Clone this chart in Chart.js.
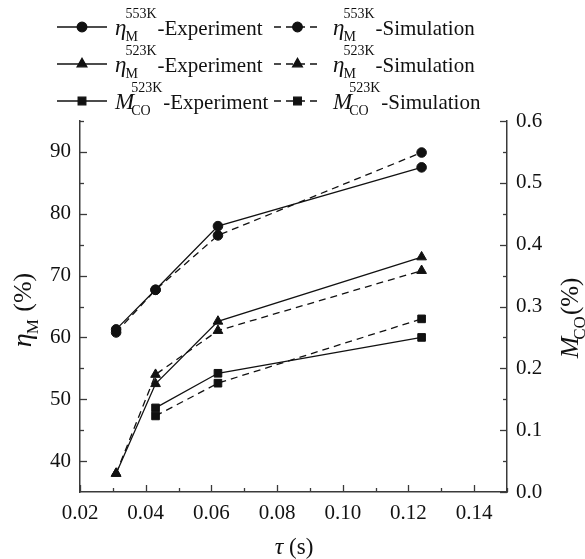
<!DOCTYPE html>
<html>
<head>
<meta charset="utf-8">
<script src="https://cdn.jsdelivr.net/npm/chart.js@4.4.1/dist/chart.umd.min.js"></script>
<style>
  html, body { margin: 0; padding: 0; background: #fff; }
  canvas { display: block; }
</style>
</head>
<body>
<canvas id="tauChart" width="585" height="559"></canvas>
<script>
// residence time (s)
const tau = [0.031, 0.043, 0.062, 0.124];
const tauCO = [0.043, 0.062, 0.124];

// methanol yield eta_M (%), left axis
const eta553Exp = [61.3, 67.7, 78.0, 87.5];
const eta553Sim = [60.8, 67.7, 76.5, 89.9];
const eta523Exp = [38.0, 52.5, 62.6, 73.0];
const eta523Sim = [38.0, 54.0, 61.1, 70.8];

// M_CO (%), right axis
const mcoExp = [0.136, 0.192, 0.250];
const mcoSim = [0.123, 0.176, 0.280];

const xTicks = [0.02, 0.04, 0.06, 0.08, 0.10, 0.12, 0.14];
const etaTicks = [40, 50, 60, 70, 80, 90];
const mcoTicks = [0, 0.1, 0.2, 0.3, 0.4, 0.5, 0.6];

// legend text: symbol, subscript, superscript, rest
const legendText = [
    ["η", "M", "553K", "-Experiment"], ["η", "M", "553K", "-Simulation"],
    ["η", "M", "523K", "-Experiment"], ["η", "M", "523K", "-Simulation"],
    ["M", "CO", "523K", "-Experiment"], ["M", "CO", "523K", "-Simulation"]
];

const SERIF = '"Liberation Serif", "Times New Roman", serif';
const INK = "#111";
const AXIS = "#3a3a3a";

function series(xs, ys, shape, dashed, axis) {
    return {
        data: xs.map((x, i) => ({ x: x, y: ys[i] })),
        yAxisID: axis,
        borderColor: INK,
        backgroundColor: INK,
        borderWidth: 1.3,
        borderDash: dashed ? [7, 5] : [],
        pointStyle: shape,
        pointRadius: shape === "circle" ? 4.8 : (shape === "rect" ? 5.4 : 5.6),
        pointBorderWidth: 1,
        pointBackgroundColor: INK,
        pointBorderColor: INK,
        tension: 0,
        fill: false
    };
}

// draws text like  η  with subscript/superscript, then the rest
function richText(ctx, x, y, main, sub, sup, rest, sizes) {
    const sz = sizes || { main: 23, small: 14, rest: 21, subDy: 6, supDy: -17 };
    ctx.font = "italic " + sz.main + "px " + SERIF;
    ctx.fillText(main, x, y);
    // italic M leans right, tuck the scripts in a little
    const w = ctx.measureText(main).width - (main === "M" ? 3 : 1);
    ctx.font = sz.small + "px " + SERIF;
    const subW = sub ? ctx.measureText(sub).width : 0;
    const supW = sup ? ctx.measureText(sup).width : 0;
    if (sub) ctx.fillText(sub, x + w, y + sz.subDy);
    if (sup) ctx.fillText(sup, x + w, y + sz.supDy);
    const x2 = x + w + Math.max(subW, supW) + 1;
    if (rest) {
        ctx.font = sz.rest + "px " + SERIF;
        ctx.fillText(rest, x2, y);
        return x2 + ctx.measureText(rest).width;
    }
    return x2;
}

const inwardTicks = {
    id: "inwardTicks",
    afterDraw(chart) {
        const { ctx, chartArea: a, scales } = chart;
        ctx.save();
        ctx.strokeStyle = AXIS;
        ctx.lineWidth = 1.3;
        const mark = (scale, value, len) => {
            const p = Math.round(scale.getPixelForValue(value)) + 0.5;
            ctx.beginPath();
            if (scale.axis === "x") {
                ctx.moveTo(p, a.bottom); ctx.lineTo(p, a.bottom - len);
            } else if (scale.position === "left") {
                ctx.moveTo(a.left, p); ctx.lineTo(a.left + len, p);
            } else {
                ctx.moveTo(a.right, p); ctx.lineTo(a.right - len, p);
            }
            ctx.stroke();
        };
        [scales.x, scales.eta, scales.mco].forEach(s => {
            const vals = s.ticks.map(t => t.value);
            const step = vals[1] - vals[0];
            vals.forEach(v => mark(s, v, 7));
            for (let k = -1; k <= vals.length; k++) {
                const v = vals[0] + (k + 0.5) * step;
                if (v > s.min + step * 0.01 && v <= s.max + step * 0.01) mark(s, v, 4);
            }
        });
        ctx.restore();
    }
};

// measure a rich label so the rotated titles can be centred
function richWidth(ctx, main, sub, rest, sz) {
    ctx.font = "italic " + sz.main + "px " + SERIF;
    let w = ctx.measureText(main).width;
    ctx.font = sz.small + "px " + SERIF;
    w += ctx.measureText(sub).width;
    ctx.font = sz.rest + "px " + SERIF;
    return w + ctx.measureText(rest).width;
}

const titlesAndLegend = {
    id: "titlesAndLegend",
    afterDraw(chart) {
        const ctx = chart.ctx;
        const ds = chart.data.datasets;
        ctx.save();
        ctx.fillStyle = INK;
        ctx.textBaseline = "alphabetic";
        ctx.textAlign = "left";

        // legend, 3 rows x 2 columns
        const rows = [27, 64, 101];
        const cols = [{ x0: 57, x1: 107, tx: 115 }, { x0: 274, x1: 321, tx: 333 }];
        ds.forEach((d, i) => {
            const r = rows[Math.floor(i / 2)], c = cols[i % 2];
            ctx.strokeStyle = INK;
            ctx.lineWidth = 1.3;
            ctx.setLineDash(d.borderDash);
            ctx.beginPath();
            ctx.moveTo(c.x0, r); ctx.lineTo(c.x1, r);
            ctx.stroke();
            ctx.setLineDash([]);
            ctx.fillStyle = INK;
            Chart.helpers.drawPoint(ctx, {
                pointStyle: d.pointStyle, radius: d.pointRadius, rotation: 0, borderWidth: 1
            }, (c.x0 + c.x1) / 2, r);
            const t = legendText[i];
            richText(ctx, c.tx, r + 8, t[0], t[1], t[2], t[3]);
        });

        // x title
        ctx.font = "italic 24px " + SERIF;
        const tw = ctx.measureText("τ").width;
        ctx.font = "23px " + SERIF;
        const sw = ctx.measureText(" (s)").width;
        const x = 294 - (tw + sw) / 2;
        ctx.font = "italic 24px " + SERIF;
        ctx.fillText("τ", x, 554);
        ctx.font = "23px " + SERIF;
        ctx.fillText(" (s)", x + tw, 554);

        // left title, rotated
        const leftSz = { main: 28, small: 17, rest: 26, subDy: 7, supDy: 0 };
        const lw = richWidth(ctx, "η", "M", " (%)", leftSz);
        ctx.save();
        ctx.translate(31, 310 + lw / 2);
        ctx.rotate(-Math.PI / 2);
        richText(ctx, 0, 0, "η", "M", "", " (%)", leftSz);
        ctx.restore();

        // right title, rotated
        const rightSz = { main: 26, small: 17, rest: 25, subDy: 7, supDy: 0 };
        const rw = richWidth(ctx, "M", "CO", "(%)", rightSz);
        ctx.save();
        ctx.translate(578, 317 + rw / 2);
        ctx.rotate(-Math.PI / 2);
        richText(ctx, 0, 0, "M", "CO", "", "(%)", rightSz);
        ctx.restore();

        ctx.restore();
    }
};

const tickFont = { family: SERIF, size: 21 };

new Chart(document.getElementById("tauChart"), {
    type: "line",
    data: {
        datasets: [
            series(tau, eta553Exp, "circle", false, "eta"),
            series(tau, eta553Sim, "circle", true, "eta"),
            series(tau, eta523Exp, "triangle", false, "eta"),
            series(tau, eta523Sim, "triangle", true, "eta"),
            series(tauCO, mcoExp, "rect", false, "mco"),
            series(tauCO, mcoSim, "rect", true, "mco")
        ]
    },
    options: {
        responsive: false,
        animation: false,
        layout: { padding: { top: 121, left: 0, right: 0, bottom: 0 } },
        plugins: { legend: { display: false }, tooltip: { enabled: false } },
        scales: {
            x: {
                type: "linear",
                min: 0.02,
                max: 0.15,
                afterBuildTicks: s => { s.ticks = xTicks.map(v => ({ value: v })); },
                afterFit: s => { s.height = 67; },
                grid: { display: false, drawTicks: false },
                border: { display: true, color: AXIS, width: 1.5 },
                ticks: {
                    font: tickFont, color: INK, padding: 9, maxRotation: 0,
                    callback: v => v.toFixed(2)
                }
            },
            eta: {
                type: "linear",
                position: "left",
                min: 35,
                max: 95,
                afterBuildTicks: s => { s.ticks = etaTicks.map(v => ({ value: v })); },
                afterFit: s => { s.width = 80; },
                grid: { display: false, drawTicks: false },
                border: { display: true, color: AXIS, width: 1.5 },
                ticks: { font: tickFont, color: INK, padding: 9, callback: v => String(v) }
            },
            mco: {
                type: "linear",
                position: "right",
                min: 0,
                max: 0.6,
                afterBuildTicks: s => { s.ticks = mcoTicks.map(v => ({ value: v })); },
                afterFit: s => { s.width = 78; },
                grid: { display: false, drawTicks: false },
                border: { display: true, color: AXIS, width: 1.5 },
                ticks: { font: tickFont, color: INK, padding: 9, callback: v => v.toFixed(1) }
            }
        }
    },
    plugins: [inwardTicks, titlesAndLegend]
});
</script>
</body>
</html>
